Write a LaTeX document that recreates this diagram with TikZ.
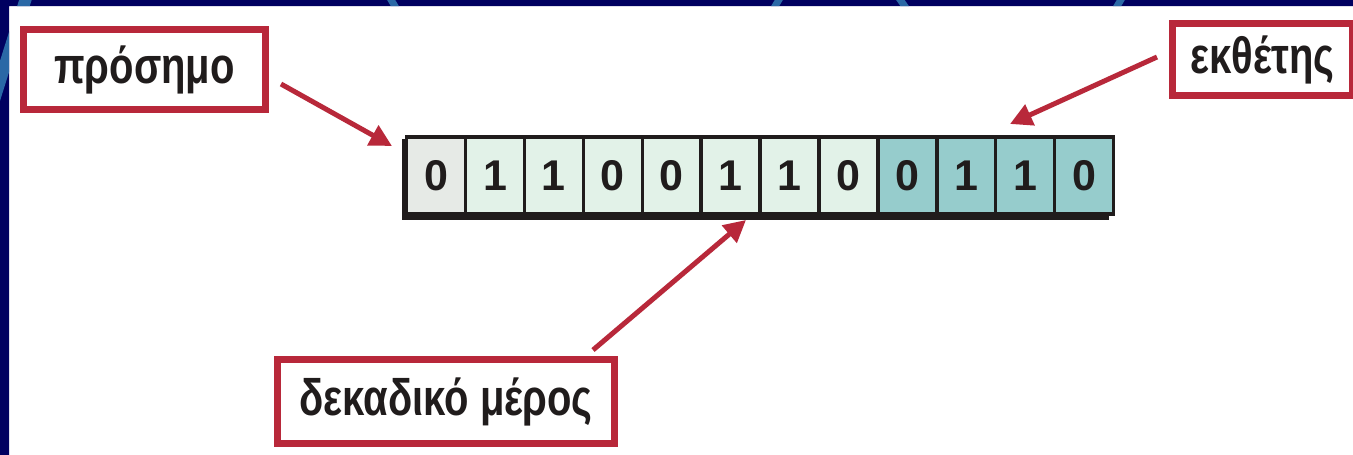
\documentclass[tikz,border=0pt]{standalone}
\usepackage{fontspec}
\usepackage{graphicx}
\setmainfont{Liberation Sans}
\usetikzlibrary{arrows.meta}
\definecolor{navy}{HTML}{000060}
\definecolor{streak}{HTML}{2A68A6}
\definecolor{lred}{HTML}{B8283A}
\definecolor{cellgray}{HTML}{E6EAE6}
\definecolor{cellmint}{HTML}{E2F2E8}
\definecolor{cellteal}{HTML}{96CCCC}
\definecolor{ink}{HTML}{201C1C}
\newcommand{\talltext}[1]{\scalebox{1}[1.28]{#1}}
\tikzset{
  label box/.style={draw=lred, line width=7pt, fill=white, inner sep=0pt,
    font=\fontsize{40}{40}\bfseries, text=ink},
  bitcell/.style={draw=ink, line width=3.5pt, minimum width=58.9pt, minimum height=77pt,
    inner sep=0pt, font=\fontsize{43}{43}\bfseries, text=ink},
  pointer/.style={draw=lred, line width=5pt, -{Triangle[length=22pt,width=22pt]}},
}
\begin{document}
\begin{tikzpicture}[x=1pt,y=-1pt]
\useasboundingbox (0,0) rectangle (1353,455);
\fill[white] (0,0) rectangle (1353,455);
% frame bands
\begin{scope}
  \clip (0,0) rectangle (1353,6) (0,0) rectangle (9,455);
  \fill[navy] (0,0) rectangle (1353,455);
  \draw[streak, line width=12pt] (26,-2) -- (-6,100);
  \draw[streak, line width=7pt] (390,-2) -- (396,8);
  \draw[streak, line width=7pt] (780,-2) -- (774,8);
  \draw[streak, line width=7pt] (899,-2) -- (906,8);
  \draw[streak, line width=7pt] (1122,-2) -- (1116,8);
\end{scope}
% shadow of the bit row
\fill[ink] (402,139) rectangle (1109,220);
% bit cells
\foreach \b [count=\i from 0] in {0,1,1,0,0,1,1,0,0,1,1,0} {
  \ifnum\i=0 \def\cf{cellgray}\else\ifnum\i<8 \def\cf{cellmint}\else\def\cf{cellteal}\fi\fi
  \node[bitcell, fill=\cf] (c\i) at ({406.7+58.9*\i+29.45}, 175.5) {\b};
}
% label boxes
\node[label box, minimum width=242pt, minimum height=80pt] (sign) at (144.5,69.5) {\talltext{πρόσημο}};
\node[label box, minimum width=180pt, minimum height=72pt] (exp) at (1262.5,59.5) {\talltext{εκθέτης}};
\node[label box, minimum width=337pt, minimum height=84pt] (frac) at (446,401.5) {\talltext{δεκαδικό μέρος}};
% pointer ends
\coordinate (s0) at (281,84);
\coordinate (s1) at (392,146);
\coordinate (e0) at (1157,57);
\coordinate (e1) at (1010,124);
\coordinate (f0) at (593,350);
\coordinate (f1) at (746,220);
\draw[pointer] (s0) -- (s1);
\draw[pointer] (e0) -- (e1);
\draw[pointer] (f0) -- (f1);
\end{tikzpicture}
\end{document}
